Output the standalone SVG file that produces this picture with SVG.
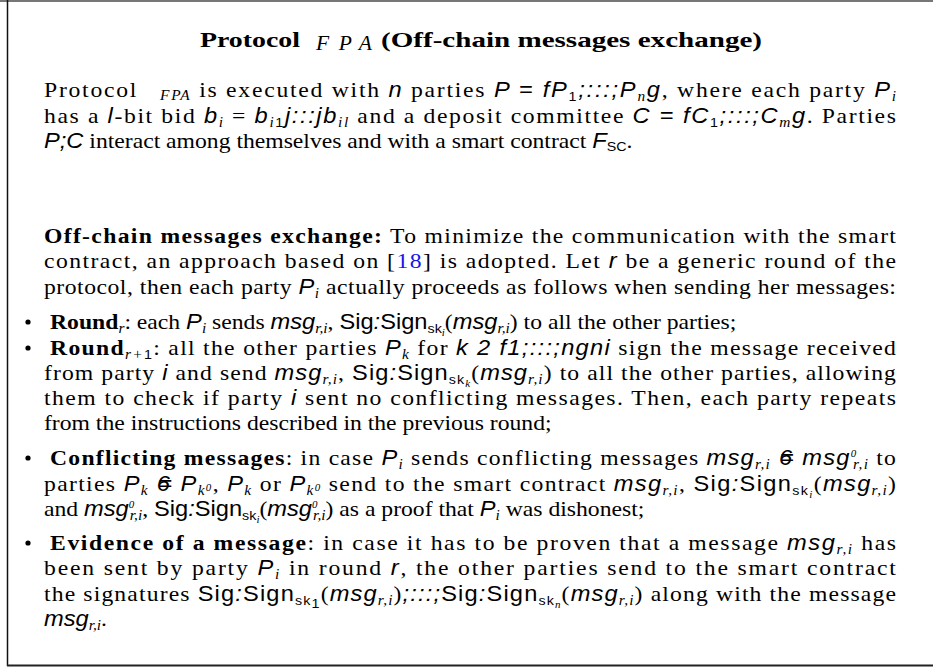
<svg xmlns="http://www.w3.org/2000/svg" width="933" height="669" viewBox="0 0 933 669">
<style>
.t{font-family:"Liberation Serif",serif;font-size:21.5px;fill:#000}
.b{font-weight:bold}
.m{font-family:"Liberation Sans",sans-serif;font-style:italic}
.u{font-family:"Liberation Sans",sans-serif;font-style:normal}
.s{font-family:"Liberation Serif",serif;font-size:14px;font-style:italic}
.su{font-family:"Liberation Sans",sans-serif;font-size:13px;font-style:normal}
.ss{font-family:"Liberation Serif",serif;font-size:10px;font-style:italic}
.l{fill:#1515ee}
.dot{fill:#000}
</style>
<rect x="0" y="0" width="933" height="669" fill="#fff"/>
<g id="frame">
<line x1="0" y1="1" x2="933" y2="1" stroke="#777" stroke-width="2"/>
<line x1="7.5" y1="0" x2="7.5" y2="666" stroke="#111" stroke-width="1.5"/>
<line x1="7" y1="665.5" x2="933" y2="665.5" stroke="#222" stroke-width="2"/>
</g>
<g id="title">
<text class="t b" x="200" y="47" font-size="23" textLength="100" lengthAdjust="spacingAndGlyphs">Protocol</text>
<text class="t" x="316" y="50" font-size="15" font-style="italic" textLength="56" lengthAdjust="spacing">FPA</text>
<text class="t b" x="381" y="47" font-size="23" textLength="381" lengthAdjust="spacingAndGlyphs">(Off-chain messages exchange)</text>
</g>
<g id="bullets">
<circle class="dot" cx="28" cy="322" r="2.6"/>
<circle class="dot" cx="28" cy="348" r="2.6"/>
<circle class="dot" cx="28" cy="458" r="2.6"/>
<circle class="dot" cx="28" cy="543" r="2.6"/>
</g>
<g id="body" transform="scale(1.1,1)">
<g id="intro">
<text class="t" x="40" y="97" textLength="774.5" lengthAdjust="spacing">Protocol <tspan font-size="14" font-style="italic" dy="3" dx="13">FPA</tspan><tspan dy="-3"> is executed with </tspan><tspan class="m">n</tspan> parties <tspan class="m">P = fP</tspan><tspan class="su" dy="4">1</tspan><tspan class="m" dy="-4">;:::;P</tspan><tspan class="s" dy="4">n</tspan><tspan class="m" dy="-4">g</tspan>, where each party <tspan class="m">P</tspan><tspan class="s" dy="4">i</tspan></text>
<text class="t" x="40" y="123" textLength="774.5" lengthAdjust="spacing">has a <tspan class="m">l</tspan>-bit bid <tspan class="m">b</tspan><tspan class="s" dy="4">i</tspan><tspan dy="-4"> = </tspan><tspan class="m">b</tspan><tspan class="s" dy="4">i</tspan><tspan class="su">1</tspan><tspan class="m" dy="-4">j:::jb</tspan><tspan class="s" dy="4">il</tspan><tspan dy="-4"> and a deposit committee </tspan><tspan class="m">C = fC</tspan><tspan class="su" dy="4">1</tspan><tspan class="m" dy="-4">;:::;C</tspan><tspan class="s" dy="4">m</tspan><tspan class="m" dy="-4">g</tspan>. Parties</text>
<text class="t" x="40" y="148"><tspan class="m">P;C</tspan> interact among themselves and with a smart contract <tspan class="m">F</tspan><tspan class="su" dy="3">SC</tspan><tspan dy="-3">.</tspan></text>
</g>
<g id="offchain">
<text class="t" x="40" y="243" textLength="774.5" lengthAdjust="spacing"><tspan class="b">Off-chain messages exchange:</tspan> To minimize the communication with the smart</text>
<text class="t" x="40" y="268" textLength="774.5" lengthAdjust="spacing">contract, an approach based on [<tspan class="l">18</tspan>] is adopted. Let <tspan class="m">r</tspan> be a generic round of the</text>
<text class="t" x="40" y="294" textLength="774.5" lengthAdjust="spacing">protocol, then each party <tspan class="m">P</tspan><tspan class="s" dy="4">i</tspan><tspan dy="-4"> actually proceeds as follows when sending her messages:</tspan></text>
</g>
<g id="item-round-r">
<text class="t" x="45.5" y="329"><tspan class="b">Round</tspan><tspan class="s" dy="4">r</tspan><tspan dy="-4">: each </tspan><tspan class="m">P</tspan><tspan class="s" dy="4">i</tspan><tspan dy="-4"> sends </tspan><tspan class="m">msg</tspan><tspan class="s" dy="4">r,i</tspan><tspan dy="-4">, </tspan><tspan class="u">Sig</tspan><tspan class="m">:</tspan><tspan class="u">Sign</tspan><tspan class="su" dy="4">sk</tspan><tspan class="ss" dy="3">i</tspan><tspan dy="-7">(</tspan><tspan class="m">msg</tspan><tspan class="s" dy="4">r,i</tspan><tspan dy="-4">) to all the other parties;</tspan></text>
</g>
<g id="item-round-r1">
<text class="t" x="45.5" y="355" textLength="769" lengthAdjust="spacing"><tspan class="b">Round</tspan><tspan class="s" dy="4">r+</tspan><tspan class="su">1</tspan><tspan dy="-4">: all the other parties </tspan><tspan class="m">P</tspan><tspan class="s" dy="4">k</tspan><tspan dy="-4"> for </tspan><tspan class="m">k 2 f1;:::;ngni</tspan> sign the message received</text>
<text class="t" x="40" y="380" textLength="774.5" lengthAdjust="spacing">from party <tspan class="m">i</tspan> and send <tspan class="m">msg</tspan><tspan class="s" dy="4">r,i</tspan><tspan dy="-4">, </tspan><tspan class="u">Sig</tspan><tspan class="m">:</tspan><tspan class="u">Sign</tspan><tspan class="su" dy="4">sk</tspan><tspan class="ss" dy="3">k</tspan><tspan dy="-7">(</tspan><tspan class="m">msg</tspan><tspan class="s" dy="4">r,i</tspan><tspan dy="-4">) to all the other parties, allowing</tspan></text>
<text class="t" x="40" y="405" textLength="774.5" lengthAdjust="spacing">them to check if party <tspan class="m">i</tspan> sent no conflicting messages. Then, each party repeats</text>
<text class="t" x="40" y="430">from the instructions described in the previous round;</text>
</g>
<g id="item-conflicting">
<text class="t" x="45.5" y="465" textLength="769" lengthAdjust="spacing"><tspan class="b">Conflicting messages</tspan>: in case <tspan class="m">P</tspan><tspan class="s" dy="4">i</tspan><tspan dy="-4"> sends conflicting messages </tspan><tspan class="m">msg</tspan><tspan class="s" dy="4">r,i</tspan><tspan class="m" dy="-4"> 6</tspan><tspan class="m" dx="-12">=</tspan> <tspan class="m">msg</tspan><tspan class="ss" dy="-8">0</tspan><tspan class="s" dx="-4" dy="12">r,i</tspan><tspan dy="-4"> to</tspan></text>
<text class="t" x="40" y="491" textLength="774.5" lengthAdjust="spacing">parties <tspan class="m">P</tspan><tspan class="s" dy="4">k</tspan><tspan class="m" dy="-4"> 6</tspan><tspan class="m" dx="-12">=</tspan> <tspan class="m">P</tspan><tspan class="s" dy="4">k</tspan><tspan class="ss" dy="-4">0</tspan><tspan dy="0">, </tspan><tspan class="m">P</tspan><tspan class="s" dy="4">k</tspan><tspan dy="-4"> or </tspan><tspan class="m">P</tspan><tspan class="s" dy="4">k</tspan><tspan class="ss" dy="-4">0</tspan><tspan dy="0"> send to the smart contract </tspan><tspan class="m">msg</tspan><tspan class="s" dy="4">r,i</tspan><tspan dy="-4">, </tspan><tspan class="u">Sig</tspan><tspan class="m">:</tspan><tspan class="u">Sign</tspan><tspan class="su" dy="4">sk</tspan><tspan class="ss" dy="3">i</tspan><tspan dy="-7">(</tspan><tspan class="m">msg</tspan><tspan class="s" dy="4">r,i</tspan><tspan dy="-4">)</tspan></text>
<text class="t" x="40" y="516">and <tspan class="m">msg</tspan><tspan class="ss" dy="-8">0</tspan><tspan class="s" dx="-4" dy="12">r,i</tspan><tspan dy="-4">, </tspan><tspan class="u">Sig</tspan><tspan class="m">:</tspan><tspan class="u">Sign</tspan><tspan class="su" dy="4">sk</tspan><tspan class="ss" dy="3">i</tspan><tspan dy="-7">(</tspan><tspan class="m">msg</tspan><tspan class="ss" dy="-8">0</tspan><tspan class="s" dx="-4" dy="12">r,i</tspan><tspan dy="-4">) as a proof that </tspan><tspan class="m">P</tspan><tspan class="s" dy="4">i</tspan><tspan dy="-4"> was dishonest;</tspan></text>
</g>
<g id="item-evidence">
<text class="t" x="45.5" y="550" textLength="769" lengthAdjust="spacing"><tspan class="b">Evidence of a message</tspan>: in case it has to be proven that a message <tspan class="m">msg</tspan><tspan class="s" dy="4">r,i</tspan><tspan dy="-4"> has</tspan></text>
<text class="t" x="40" y="575" textLength="774.5" lengthAdjust="spacing">been sent by party <tspan class="m">P</tspan><tspan class="s" dy="4">i</tspan><tspan dy="-4"> in round </tspan><tspan class="m">r</tspan>, the other parties send to the smart contract</text>
<text class="t" x="40" y="601" textLength="774.5" lengthAdjust="spacing">the signatures <tspan class="u">Sig</tspan><tspan class="m">:</tspan><tspan class="u">Sign</tspan><tspan class="su" dy="4">sk</tspan><tspan class="su" font-size="9" dy="3">1</tspan><tspan dy="-7">(</tspan><tspan class="m">msg</tspan><tspan class="s" dy="4">r,i</tspan><tspan dy="-4">)</tspan><tspan class="m">;:::;</tspan><tspan class="u">Sig</tspan><tspan class="m">:</tspan><tspan class="u">Sign</tspan><tspan class="su" dy="4">sk</tspan><tspan class="ss" dy="3">n</tspan><tspan dy="-7">(</tspan><tspan class="m">msg</tspan><tspan class="s" dy="4">r,i</tspan><tspan dy="-4">) along with the message</tspan></text>
<text class="t" x="40" y="626"><tspan class="m">msg</tspan><tspan class="s" dy="4">r,i</tspan><tspan dy="-4">.</tspan></text>
</g>
</g>
</svg>
